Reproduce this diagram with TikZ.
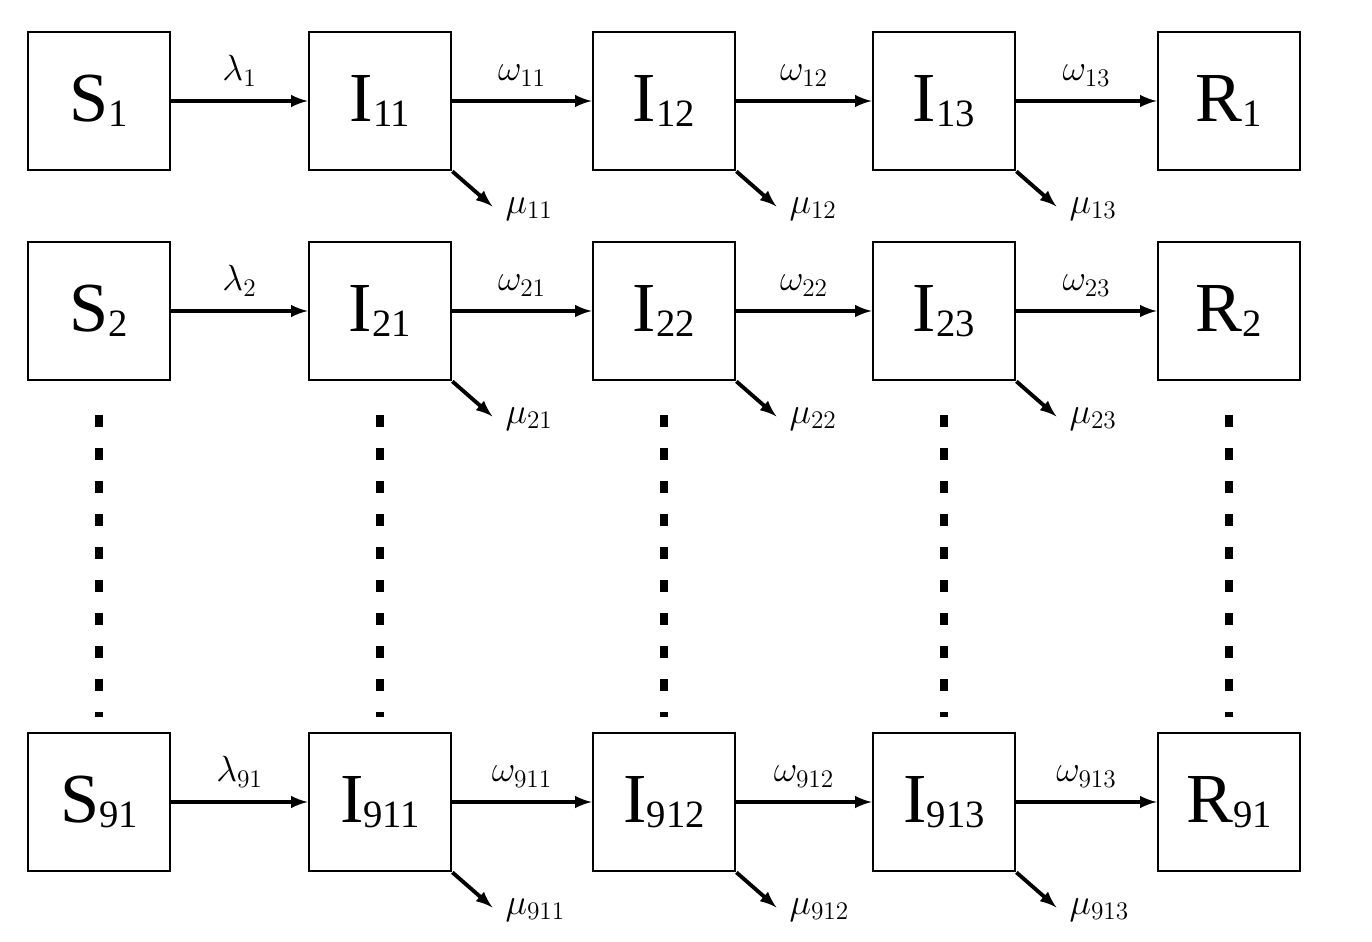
\documentclass[tikz,border=0pt]{standalone}
\usepackage{fontspec}
\setmainfont{Liberation Serif}
\usetikzlibrary{positioning}
\tikzset{
  comp/.style={draw,line width=1.6pt,minimum width=2.84cm,minimum height=2.76cm,inner sep=0pt,font=\fontsize{40}{44}\selectfont},
  flow/.style={line width=2.2pt,->,>=latex},
  rate/.style={font=\fontsize{22}{26}\selectfont},
  dots/.style={line width=5pt,dash pattern=on 0.24cm off 0.42cm}
}
\newcommand{\sub}[1]{\raisebox{-0.15ex}{\fontsize{22}{24}\selectfont #1}}
\begin{document}
\begin{tikzpicture}[x=0.02cm,y=-0.02cm]
\useasboundingbox (0,0) rectangle (1372,942);
\fill[white] (0,0) rectangle (1372,942);
% compartments, one row per group
\foreach \r/\y/\g in {a/101/1,b/311/2,c/802/91}{
  \node[comp] (S\r) at (99,\y) {S\sub{\g}};
  \node[comp] (I\r1) at (380,\y) {I\sub{\g1}};
  \node[comp] (I\r2) at (664,\y) {I\sub{\g2}};
  \node[comp] (I\r3) at (944,\y) {I\sub{\g3}};
  \node[comp] (R\r) at (1229,\y) {R\sub{\g}};
  \draw[flow] (S\r) -- node[rate,above=4pt] {$\lambda_{\g}$} (I\r1);
  \draw[flow] (I\r1) -- node[rate,above=4pt] {$\omega_{\g1}$} (I\r2);
  \draw[flow] (I\r2) -- node[rate,above=4pt] {$\omega_{\g2}$} (I\r3);
  \draw[flow] (I\r3) -- node[rate,above=4pt] {$\omega_{\g3}$} (R\r);
  \foreach \k in {1,2,3}{
    \coordinate (m\r\k) at ([xshift=0.8cm,yshift=-0.7cm]I\r\k.south east);
    \draw[flow] (I\r\k.south east) -- (m\r\k);
    \node[rate,right=4pt] at ([yshift=-0.05cm]m\r\k) {$\mu_{\g\k}$};
  }
}
% ellipsis between rows
\foreach \n/\m in {S/,I/1,I/2,I/3,R/}{
  \draw[dots] ([yshift=-0.68cm]\n b\m.south) -- ([yshift=0.3cm]\n c\m.north);
}
\end{tikzpicture}
\end{document}
